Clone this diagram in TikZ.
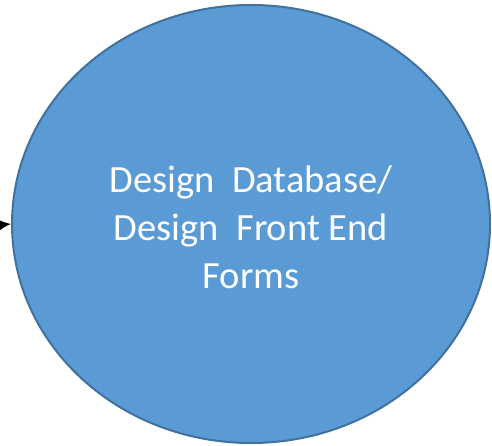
\documentclass[tikz,border=0pt]{standalone}
\usepackage{fontspec}
\setmainfont{Carlito}
\usetikzlibrary{shapes.geometric,arrows.meta}
\definecolor{fillblue}{HTML}{5B9BD5}
\definecolor{edgeblue}{HTML}{41719C}
\begin{document}
\begin{tikzpicture}[x=1pt,y=-1pt,
  bubble/.style={ellipse, draw=edgeblue, fill=fillblue, line width=2pt, minimum width=478pt, minimum height=438pt, inner sep=0pt},
  lbl/.style={text=white, align=center, font=\fontsize{38.5}{48}\selectfont}]
\useasboundingbox (0,0) rectangle (492,446);
\node[bubble] (c) at (251,224) {};
\node[lbl] (t) at (251,227) {Design\ \ Database/\\Design\ \ Front End\\Forms};
\coordinate (s) at (0,225);
\draw[-{Latex[length=12pt,width=11pt]}, line width=1.5pt] (s) -- (c.west);
\end{tikzpicture}
\end{document}
